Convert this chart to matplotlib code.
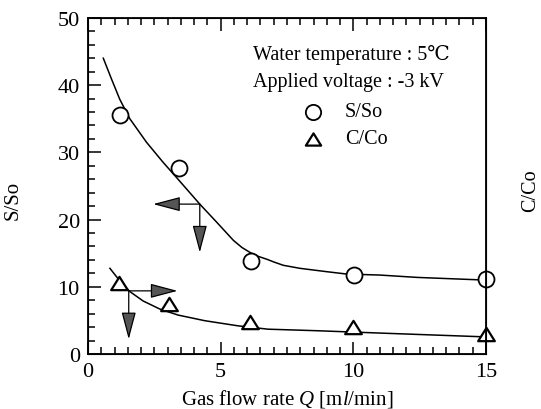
import numpy as np
import matplotlib
matplotlib.use('Agg')
import matplotlib.pyplot as plt
from matplotlib.ticker import MultipleLocator
from matplotlib.path import Path

plt.rcParams['font.family'] = ['Liberation Serif', 'DejaVu Serif']
plt.rcParams['mathtext.fontset'] = 'custom'
plt.rcParams['mathtext.rm'] = 'Liberation Serif'
plt.rcParams['mathtext.it'] = 'Liberation Serif:italic'

# measured points
q_s = [1.2, 3.42, 6.13, 10.03, 15.0]
s_so = [35.6, 27.6, 13.9, 11.8, 11.2]
q_c = [1.16, 3.04, 6.09, 10.0, 15.0]
c_co = [10.5, 7.4, 4.8, 4.0, 3.0]

# fitted curves
fit_s_x = [0.57, 0.88, 1.19, 1.57, 2.20, 2.83, 3.39, 4.21, 4.85, 5.2, 5.48,
           5.8, 6.11, 6.4, 6.74, 7.0, 7.36, 7.99, 9.0, 9.75, 11.0, 12.41,
           14.67, 15.0]
fit_s_y = [44.0, 40.9, 37.9, 35.0, 31.5, 28.5, 26.0, 22.3, 19.6, 18.1, 16.9,
           15.85, 15.1, 14.55, 14.1, 13.7, 13.2, 12.75, 12.25, 11.9, 11.75,
           11.4, 11.05, 11.0]
fit_c_x = [0.82, 1.19, 1.57, 2.07, 2.70, 3.39, 4.40, 5.65, 6.78, 8.64, 11.16,
           14.67, 15.0]
fit_c_y = [12.75, 10.9, 9.3, 7.9, 6.7, 5.8, 4.96, 4.2, 3.7, 3.47, 3.1,
           2.6, 2.55]

# flattened open triangle like the original symbol
tri = Path([(0, 0.8), (-1, -0.8), (1, -0.8), (0, 0.8)],
           [Path.MOVETO, Path.LINETO, Path.LINETO, Path.CLOSEPOLY])

fig = plt.figure(figsize=(5.41, 4.10), dpi=100)
ax = fig.add_axes([0.163, 0.134, 0.735, 0.820])

ax.plot(fit_s_x, fit_s_y, 'k-', lw=1.1)
ax.plot(fit_c_x, fit_c_y, 'k-', lw=1.1)
ax.plot(q_s, s_so, 'o', ms=11.5, mfc='white', mec='black', mew=1.3, clip_on=False)
ax.plot(q_c, c_co, marker=tri, ls='none', ms=12, mfc='white', mec='black',
        mew=1.6, clip_on=False)

ax.set_xlim(0, 15)
ax.set_ylim(0, 50)
ax.xaxis.set_major_locator(MultipleLocator(5))
ax.xaxis.set_minor_locator(MultipleLocator(0.5))
ax.yaxis.set_major_locator(MultipleLocator(10))
ax.yaxis.set_minor_locator(MultipleLocator(2))
ax.tick_params(which='both', direction='in', top=True, right=True,
               labelright=True, width=1.1, labelsize=16)
ax.tick_params(which='major', length=9, pad=6)
ax.tick_params(which='minor', length=5)
for sp in ax.spines.values():
    sp.set_linewidth(1.3)

ax.set_xlabel(r'Gas flow rate $Q$ [m$l$/min]', fontsize=15, labelpad=4)
ax.set_ylabel('S/So', fontsize=15)
ax.yaxis.set_label_coords(-0.166, 0.46)
ax2 = ax.twinx()
ax2.set_ylim(0, 50)
ax2.set_yticks([])
ax2.set_ylabel('C/Co', fontsize=14.5)
ax2.yaxis.set_label_coords(1.088, 0.49)

# annotations
ax.text(6.22, 44.6, 'Water temperature : 5\u2103', fontsize=14.5, va='center')
ax.text(6.22, 40.6, 'Applied voltage : -3 kV', fontsize=14.5, va='center')
ax.plot([8.49], [36.0], 'o', ms=11, mfc='white', mec='black', mew=1.3)
ax.text(9.69, 36.0, 'S/So', fontsize=14.5, va='center')
ax.plot([8.49], [32.0], marker=tri, ls='none', ms=11, mfc='white',
        mec='black', mew=1.6)
ax.text(9.69, 32.0, 'C/Co', fontsize=14.5, va='center')

arrow = dict(arrowstyle='-|>,head_length=1.7,head_width=0.45', fc='#555555',
             ec='black', lw=0.9, shrinkA=0, shrinkB=0, mutation_scale=10)
ax.annotate('', xy=(2.45, 22.3), xytext=(4.21, 22.3), arrowprops=arrow)
ax.annotate('', xy=(4.21, 15.1), xytext=(4.21, 22.3), arrowprops=arrow)
ax.annotate('', xy=(3.37, 9.4), xytext=(1.53, 9.4), arrowprops=arrow)
ax.annotate('', xy=(1.53, 2.2), xytext=(1.53, 9.4), arrowprops=arrow)

fig.savefig('out.png', dpi=100)
